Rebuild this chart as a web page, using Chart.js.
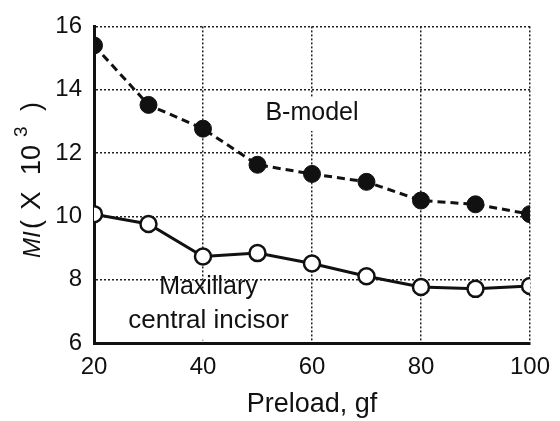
<!DOCTYPE html>
<html>
<head>
<meta charset="utf-8">
<script src="https://cdn.jsdelivr.net/npm/chart.js@4"></script>
<style>
  html, body { margin: 0; padding: 0; background: #fff; }
  #wrap { width: 560px; height: 421px; }
</style>
</head>
<body>
<div id="wrap"><canvas id="graphicMI" width="560" height="421"></canvas></div>
<script>
// MI vs preload, B-model vs maxillary central incisor

const preload = [20, 30, 40, 50, 60, 70, 80, 90, 100];
const bModel = [15.4, 13.52, 12.77, 11.63, 11.34, 11.09, 10.5, 10.38, 10.07];
const maxillary = [10.07, 9.76, 8.73, 8.84, 8.51, 8.11, 7.77, 7.71, 7.8];
const yTicks = [6, 8, 10, 12, 14, 16];
const xTicks = [20, 40, 60, 80, 100];

const FONT = "'Liberation Sans', Arial, sans-serif";

function toPoints(xs, ys) {
  return xs.map(function(x, i) { return { x: x, y: ys[i] }; });
}

// text labels inside the plot, in data coordinates
const notes = [
  { lines: ['B-model'], x: 60, y: 13.25, box: [52, 63, 13.75, 12.7] },
  { lines: ['Maxillary', 'central incisor'], x: 41, y: 7.75, box: [25.5, 56, 7.6, 6.1] }
];

const notesPlugin = {
  id: 'notes',
  beforeDatasetsDraw(chart) {
    // white patch behind the labels, hides grid lines
    const ctx = chart.ctx;
    const xs = chart.scales.x, ys = chart.scales.y;
    ctx.save();
    ctx.fillStyle = '#fff';
    notes.forEach(function(n) {
      const x0 = xs.getPixelForValue(n.box[0]);
      const x1 = xs.getPixelForValue(n.box[1]);
      const y0 = ys.getPixelForValue(n.box[2]);
      const y1 = ys.getPixelForValue(n.box[3]);
      ctx.fillRect(x0, y0, x1 - x0, y1 - y0);
    });
    ctx.restore();
  },
  afterDatasetsDraw(chart) {
    const ctx = chart.ctx;
    const xs = chart.scales.x, ys = chart.scales.y;
    ctx.save();
    ctx.fillStyle = '#111';
    ctx.font = '25px ' + FONT;
    ctx.textAlign = 'center';
    ctx.textBaseline = 'middle';
    notes.forEach(function(n) {
      const px = xs.getPixelForValue(n.x);
      const py = ys.getPixelForValue(n.y);
      n.lines.forEach(function(t, i) {
        if (i > 0) ctx.font = '26px ' + FONT;
        ctx.fillText(t, px, py + i * 33);
      });
    });
    ctx.restore();
  },
  afterDraw(chart) {
    // y axis title: italic MI, then (×10^3), drawn rotated
    const ctx = chart.ctx;
    ctx.save();
    ctx.translate(40, 258);
    ctx.rotate(-Math.PI / 2);
    ctx.fillStyle = '#111';
    ctx.textBaseline = 'alphabetic';
    const parts = [
      { t: 'MI', f: 'italic 24px ' + FONT, at: 0, dy: 0 },
      { t: '(', f: '27px ' + FONT, at: 29, dy: 0 },
      { t: 'X', f: '28px ' + FONT, at: 48, dy: 0 },
      { t: '10', f: '27px ' + FONT, at: 83, dy: 0 },
      { t: '3', f: '19px ' + FONT, at: 121, dy: -13 },
      { t: ')', f: '27px ' + FONT, at: 147, dy: 0 }
    ];
    parts.forEach(function(p) {
      ctx.font = p.f;
      ctx.fillText(p.t, p.at, p.dy);
    });
    ctx.restore();
  }
};

let chart1;
function drawChart() {
  const ctx = document.getElementById('graphicMI').getContext('2d');
  if (chart1) {
    chart1.destroy();
  }
  chart1 = new Chart(ctx, {
    type: 'line',
    data: {
      datasets: [
        {
          label: 'B-model',
          data: toPoints(preload, bModel),
          borderColor: '#111',
          borderWidth: 3,
          borderDash: [8, 5],
          pointRadius: 8.5,
          pointBackgroundColor: '#111',
          pointBorderColor: '#111',
          pointBorderWidth: 1,
          tension: 0
        },
        {
          label: 'Maxillary central incisor',
          data: toPoints(preload, maxillary),
          borderColor: '#111',
          borderWidth: 3,
          pointRadius: 8,
          pointBackgroundColor: '#fff',
          pointBorderColor: '#111',
          pointBorderWidth: 2.5,
          tension: 0
        }
      ]
    },
    options: {
      responsive: false,
      animation: false,
      layout: { padding: { top: 22, right: 23, left: 0, bottom: 0 } },
      plugins: {
        legend: { display: false },
        tooltip: { enabled: false },
        title: { display: false }
      },
      scales: {
        x: {
          type: 'linear',
          min: 20,
          max: 100,
          afterBuildTicks: function(scale) {
            scale.ticks = xTicks.map(function(v) { return { value: v }; });
          },
          afterFit: function(scale) { scale.height = 78; },
          grid: { color: '#222', lineWidth: 1.5, drawTicks: false },
          border: { display: true, color: '#111', width: 3, dash: [2, 2] },
          ticks: {
            color: '#111',
            padding: 10,
            maxRotation: 0,
            font: { family: FONT, size: 24 }
          },
          title: {
            display: true,
            text: 'Preload, gf',
            color: '#111',
            padding: { top: 5, bottom: 0 },
            font: { family: FONT, size: 27 }
          }
        },
        y: {
          min: 6,
          max: 16,
          afterBuildTicks: function(scale) {
            scale.ticks = yTicks.map(function(v) { return { value: v }; });
          },
          afterFit: function(scale) { scale.width = 94; },
          grid: { color: '#222', lineWidth: 1.5, drawTicks: false },
          border: { display: true, color: '#111', width: 3, dash: [2, 2] },
          ticks: {
            color: '#111',
            padding: 12,
            font: { family: FONT, size: 24 }
          }
        }
      }
    },
    plugins: [notesPlugin]
  });
}

drawChart();
</script>
</body>
</html>
